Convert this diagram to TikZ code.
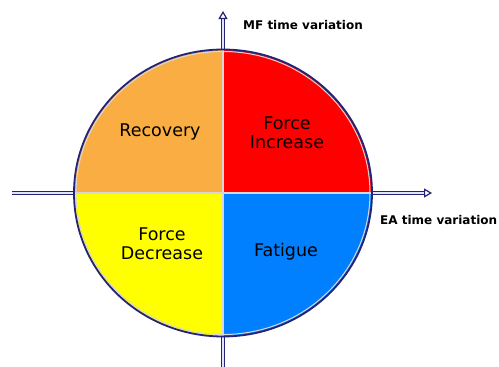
\documentclass[tikz,border=0pt]{standalone}
\usepackage{fontspec}
\setmainfont{DejaVu Sans}
\usetikzlibrary{arrows.meta}
\definecolor{qorange}{RGB}{249,173,66}
\definecolor{qred}{RGB}{255,0,0}
\definecolor{qyellow}{RGB}{255,255,0}
\definecolor{qblue}{RGB}{0,128,255}
\definecolor{axisnavy}{RGB}{35,35,120}
\definecolor{axisfill}{RGB}{225,228,245}
\definecolor{divgray}{RGB}{215,215,215}
\tikzset{
  axisline/.style={draw=axisnavy, line width=1.2pt, double=axisfill, double distance=1.4pt},
  quadlabel/.style={font=\fontsize{17.5}{19}\selectfont, align=center, text=black, inner sep=0pt},
  axislabel/.style={font=\bfseries\fontsize{12}{14}\selectfont, anchor=base west, inner sep=0pt},
}
\begin{document}
\begin{tikzpicture}[x=1pt,y=-1pt]
\useasboundingbox (0,0) rectangle (499,367);
% axis end points
\coordinate (left) at (12,193);
\coordinate (right) at (432,193);
\coordinate (top) at (223,11);
\coordinate (bottom) at (223,370);
\coordinate (c) at (223,193);
% axes
\draw[axisline, -{Triangle[open,length=8pt,width=9pt]}] (left) -- (right);
\draw[axisline, -{Triangle[open,length=8pt,width=9pt]}] (bottom) -- (top);
% quadrants
\begin{scope}
\clip (c) ellipse [x radius=148.5, y radius=143];
\fill[qorange] (c) rectangle (60,40);
\fill[qred] (c) rectangle (390,40);
\fill[qyellow] (c) rectangle (60,350);
\fill[qblue] (c) rectangle (390,350);
\draw[divgray, line width=1.3pt] (60,193) -- (390,193);
\draw[divgray, line width=1.3pt] (223,40) -- (223,350);
\end{scope}
\draw[divgray, line width=1pt] (c) ellipse [x radius=147, y radius=141.5];
\draw[axisnavy, line width=1.8pt] (c) ellipse [x radius=149, y radius=143.5];
% labels
\node[quadlabel] (rec) at (160,132) {Recovery};
\node[quadlabel] (finc) at (287,132.5) {Force\\Increase};
\node[quadlabel] (fdec) at (162,244) {Force\\Decrease};
\node[quadlabel] (fat) at (286,252) {Fatigue};
\node[axislabel] (mf) at (243,29) {MF time variation};
\node[axislabel] (ea) at (380,224) {EA time variation};
\end{tikzpicture}
\end{document}
